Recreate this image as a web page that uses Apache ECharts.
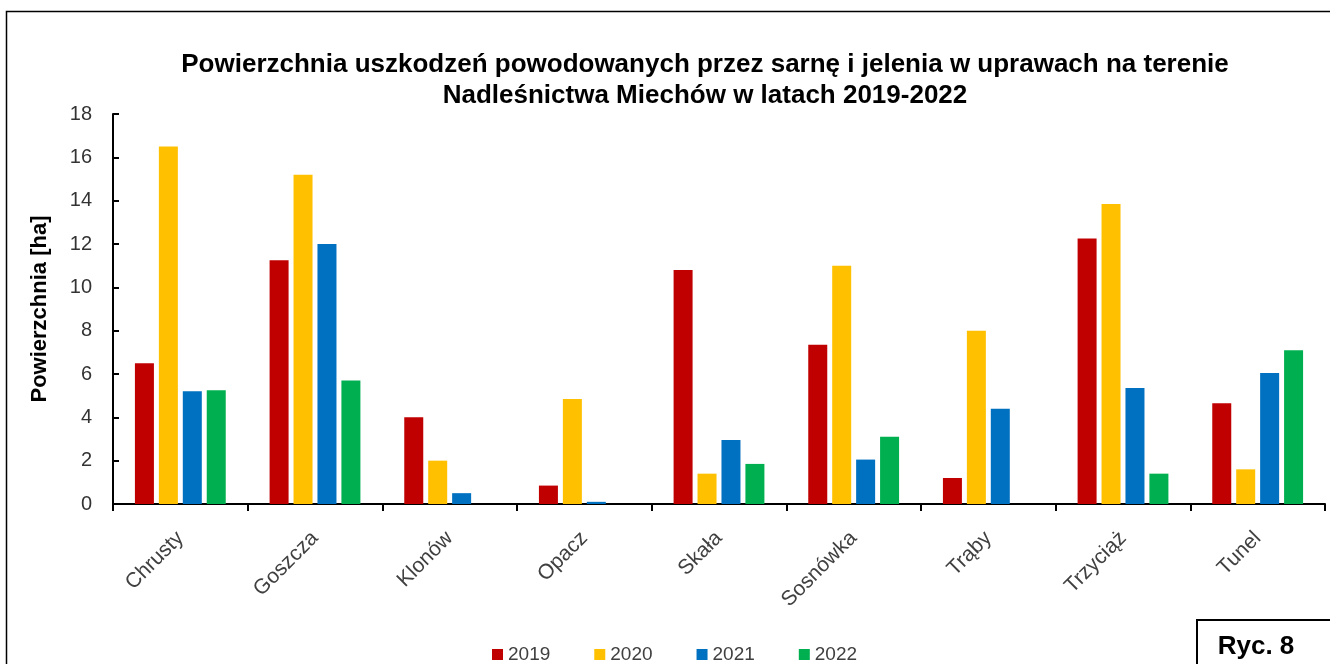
<!DOCTYPE html>
<html>
<head>
<meta charset="utf-8">
<script src="https://cdn.jsdelivr.net/npm/echarts@6/dist/echarts.min.js"></script>
<style>
  html, body { margin: 0; padding: 0; background: #fff; }
  #chart { width: 1330px; height: 664px; }
</style>
</head>
<body>
<div id="chart"></div>
<script>
// leśnictwa
const categories = ['Chrusty', 'Goszcza', 'Klonów', 'Opacz', 'Skała', 'Sosnówka', 'Trąby', 'Trzyciąż', 'Tunel']
// powierzchnia uszkodzeń [ha]
const years = ['2019', '2020', '2021', '2022']
const v2019 = [6.5, 11.25, 4.0, 0.85, 10.8, 7.35, 1.2, 12.25, 4.65]
const v2020 = [16.5, 15.2, 2.0, 4.85, 1.4, 11.0, 8.0, 13.85, 1.6]
const v2021 = [5.2, 12.0, 0.5, 0.1, 2.95, 2.05, 4.4, 5.35, 6.05]
const v2022 = [5.25, 5.7, 0, 0, 1.85, 3.1, 0, 1.4, 7.1]
const yTicks = [0, 2, 4, 6, 8, 10, 12, 14, 16, 18]

const colors = ['#C00000', '#FFC000', '#0070C0', '#00B050']
const font = "'Liberation Sans', Arial, sans-serif"

const chart = echarts.init(document.getElementById('chart'))
chart.setOption({
  backgroundColor: '#fff',
  animation: false,
  title: {
    text: 'Powierzchnia uszkodzeń powodowanych przez sarnę i jelenia w uprawach na terenie\nNadleśnictwa Miechów w latach 2019-2022',
    left: 700,
    top: 44,
    textAlign: 'center',
    textStyle: {
      fontFamily: font,
      fontSize: 26,
      fontWeight: 'bold',
      color: '#000',
      lineHeight: 31
    }
  },
  legend: {
    data: years,
    left: 487,
    top: 640,
    icon: 'rect',
    itemWidth: 11,
    itemHeight: 11,
    itemGap: 44,
    textStyle: { fontFamily: font, fontSize: 19, color: '#404040' }
  },
  grid: {
    left: 113,
    right: 5,
    top: 114,
    bottom: 160
  },
  xAxis: {
    type: 'category',
    data: categories,
    axisLine: { lineStyle: { color: '#000', width: 2 } },
    axisTick: { show: true, length: 7, lineStyle: { color: '#000', width: 2 } },
    axisLabel: {
      rotate: 45,
      margin: 31,
      fontFamily: font,
      fontSize: 21,
      color: '#404040'
    }
  },
  yAxis: {
    type: 'value',
    min: yTicks[0],
    max: yTicks[yTicks.length - 1],
    interval: 2,
    name: 'Powierzchnia [ha]',
    nameLocation: 'middle',
    nameGap: 62,
    nameTextStyle: { fontFamily: font, fontSize: 22, fontWeight: 'bold', color: '#000' },
    axisLine: { show: true, lineStyle: { color: '#000', width: 2 } },
    axisTick: { show: true, inside: true, length: 6, lineStyle: { color: '#000', width: 2 } },
    axisLabel: { fontFamily: font, fontSize: 20, color: '#333', margin: 21 },
    splitLine: { show: false }
  },
  series: [v2019, v2020, v2021, v2022].map((d, i) => ({
    name: years[i],
    type: 'bar',
    data: d,
    barWidth: 19,
    barGap: '26%',
    itemStyle: { color: colors[i] }
  })),
  graphic: [
    {
      type: 'rect',
      shape: { x: 6.5, y: 11.5, width: 1400, height: 800 },
      style: { fill: 'none', stroke: '#000', lineWidth: 1.5 },
      silent: true,
      z: 100
    },
    {
      type: 'rect',
      shape: { x: 1197, y: 620, width: 200, height: 100 },
      style: { fill: '#fff', stroke: '#000', lineWidth: 2 },
      silent: true,
      z: 100
    },
    {
      type: 'text',
      x: 1256,
      y: 647,
      style: {
        text: 'Ryc. 8',
        fontFamily: font,
        fontSize: 26,
        fontWeight: 'bold',
        fill: '#000',
        align: 'center',
        verticalAlign: 'middle'
      },
      silent: true,
      z: 101
    }
  ]
})
</script>
</body>
</html>
